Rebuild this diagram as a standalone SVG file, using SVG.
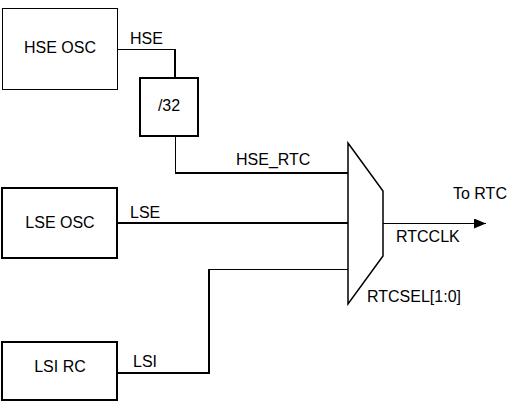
<svg xmlns="http://www.w3.org/2000/svg" width="510" height="403" viewBox="0 0 510 403">
<defs>
<style>
.box{fill:#fff;stroke:#000;stroke-width:2}
.w{fill:none;stroke:#000;stroke-width:2}
.t{stroke-width:1}
text{font-family:"Liberation Sans",Arial,sans-serif;font-size:16px;fill:#000}
.c{text-anchor:middle}
</style>
<marker id="arr" markerWidth="13" markerHeight="10" refX="12" refY="5" orient="auto" markerUnits="userSpaceOnUse">
<path d="M0,0 L12,5 L0,10 Z" fill="#000"/>
</marker>
</defs>
<rect width="510" height="403" fill="#fff"/>
<g id="connectors">
<path class="w t" d="M117,49.5 H175"/>
<path class="w" d="M175,49 V78"/>
<path class="w t" d="M175.5,136 V173"/>
<path class="w" d="M175,173 H348"/>
<path class="w" d="M117,223 H348"/>
<path class="w" d="M117,373 H209 V269"/>
<path class="w t" d="M209,269.5 H348"/>
<path class="w t" d="M383,223.5 H486" marker-end="url(#arr)"/>
<text x="130" y="44">HSE</text>
<text x="236" y="165">HSE_RTC</text>
<text x="130" y="218">LSE</text>
<text x="133" y="367">LSI</text>
<text x="453" y="199">To RTC</text>
<text x="396" y="242">RTCCLK</text>
<text x="367" y="302">RTCSEL[1:0]</text>
</g>
<g id="hse-osc">
<rect class="box" x="2.5" y="8.5" width="115" height="81" style="stroke-width:1"/>
<text class="c" x="60" y="53">HSE OSC</text>
</g>
<g id="div32">
<rect class="box" x="140" y="78" width="58" height="58"/>
<text class="c" x="169" y="111">/32</text>
</g>
<g id="lse-osc">
<rect class="box" x="2" y="188" width="115" height="70"/>
<text class="c" x="60" y="228">LSE OSC</text>
</g>
<g id="lsi-rc">
<rect class="box" x="2" y="342" width="115" height="58"/>
<text class="c" x="60" y="372">LSI RC</text>
</g>
<g id="mux">
<path class="box" d="M348,143 L383,191 L383,256 L348,304 Z" style="stroke-width:1.5"/>
</g>
</svg>
